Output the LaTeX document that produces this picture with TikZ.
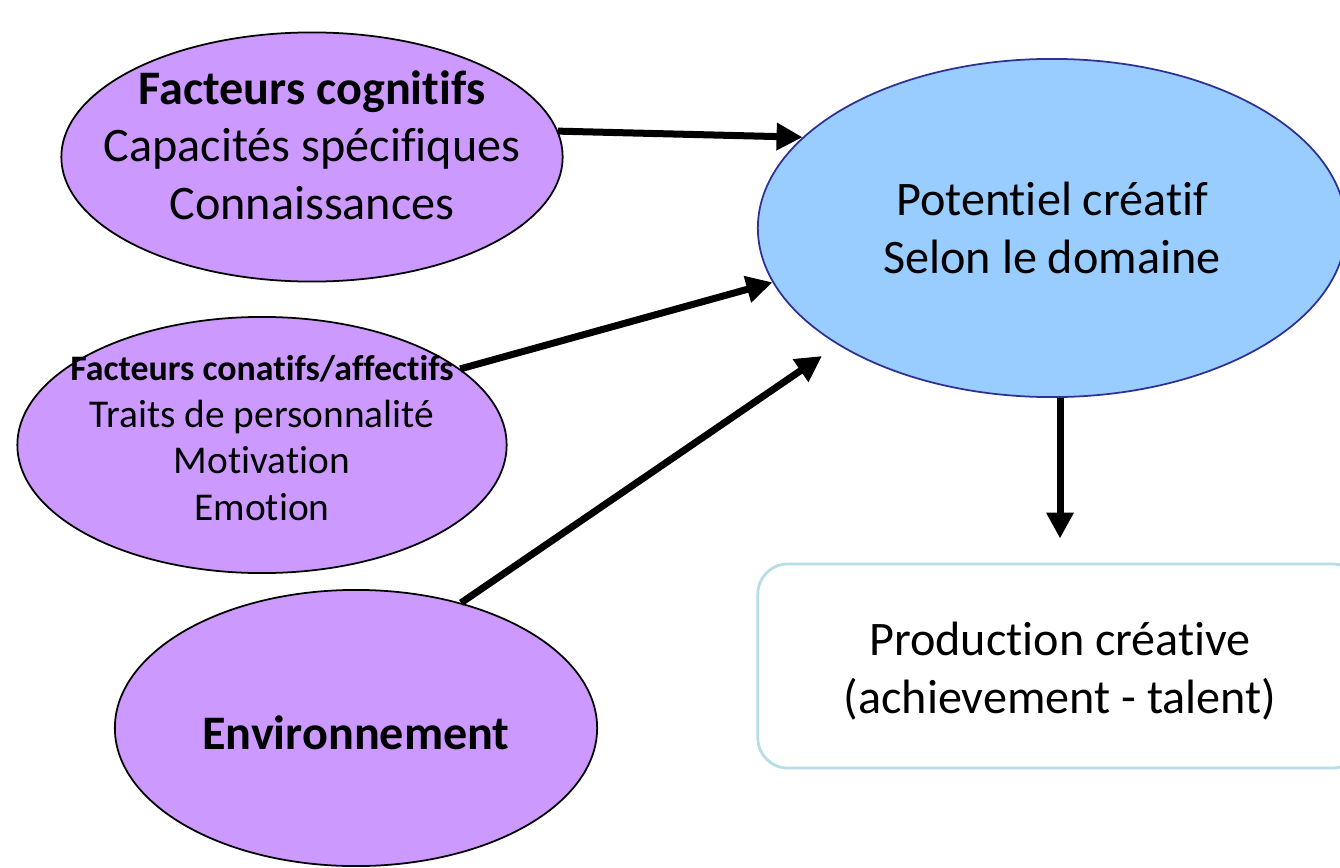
\documentclass[tikz,border=0pt]{standalone}
\usepackage{fontspec}
\setmainfont{Carlito}[Ligatures=NoCommon]
\usetikzlibrary{shapes,arrows.meta}
\definecolor{lilas}{HTML}{CC99FF}
\definecolor{ciel}{HTML}{99CCFF}
\definecolor{marine}{HTML}{2E3192}
\definecolor{bordbleu}{HTML}{B7DEE8}
\tikzset{facteur/.style={ellipse, draw, fill=lilas, line width=0.5pt}}
\tikzset{potentiel/.style={ellipse, draw=marine, fill=ciel, line width=0.5pt, minimum width=5.88cm, minimum height=3.38cm}}
\tikzset{resultat/.style={rectangle, rounded corners=0.3cm, draw=bordbleu, line width=0.8pt, minimum width=6.04cm, minimum height=2.04cm}}
\tikzset{fleche/.style={-{Triangle[length=0.26cm,width=0.26cm]}, line width=0.07cm}}
\tikzset{texte/.style={align=center, font=\fontsize{13.7}{16.3}\selectfont}}
\tikzset{petit/.style={align=center, font=\fontsize{11.2}{13.3}\selectfont}}

\begin{document}
\begin{tikzpicture}[x=0.01cm, y=-0.01cm]
        \useasboundingbox (0,0) rectangle (1340,867);
        \node[facteur, minimum width=5.01cm, minimum height=2.49cm] (cog) at (312,157) {}; 
        \node[facteur, minimum width=4.89cm, minimum height=2.56cm] (con) at (262,445) {}; 
        \node[facteur, minimum width=4.82cm, minimum height=2.76cm] (env) at (356,728) {}; 
        \node[potentiel] (pot) at (1052,228) {}; 
        \node[resultat] (prod) at (1060,666) {}; 

        \node[texte] (cogtxt) at (312,145) {\textbf{Facteurs cognitifs}\\Capacités spécifiques\\Connaissances};
        \node[petit] (contxt) at (262,438) {{\fontsize{10.2}{13.3}\selectfont\textbf{Facteurs conatifs/affectifs}}\\Traits de personnalité\\Motivation\\Emotion};
        \node[texte] (envtxt) at (356,733) {\textbf{Environnement}};
        \node[texte] (pottxt) at (1052,228) {Potentiel créatif\\Selon le domaine};
        \node[texte] (prodtxt) at (1060,671) {Production créative\\(achievement - talent)};

        \coordinate (envtip) at (822,356);
        \draw[fleche] (cog.6) -- (pot.160);
        \draw[fleche] (con.21) -- (pot.191);
        \draw[fleche] (env.50) -- (envtip);
        \draw[fleche, shorten >=0.24cm] (pot.south -| prod.north) -- (prod.north);
            
\end{tikzpicture}
\end{document}
